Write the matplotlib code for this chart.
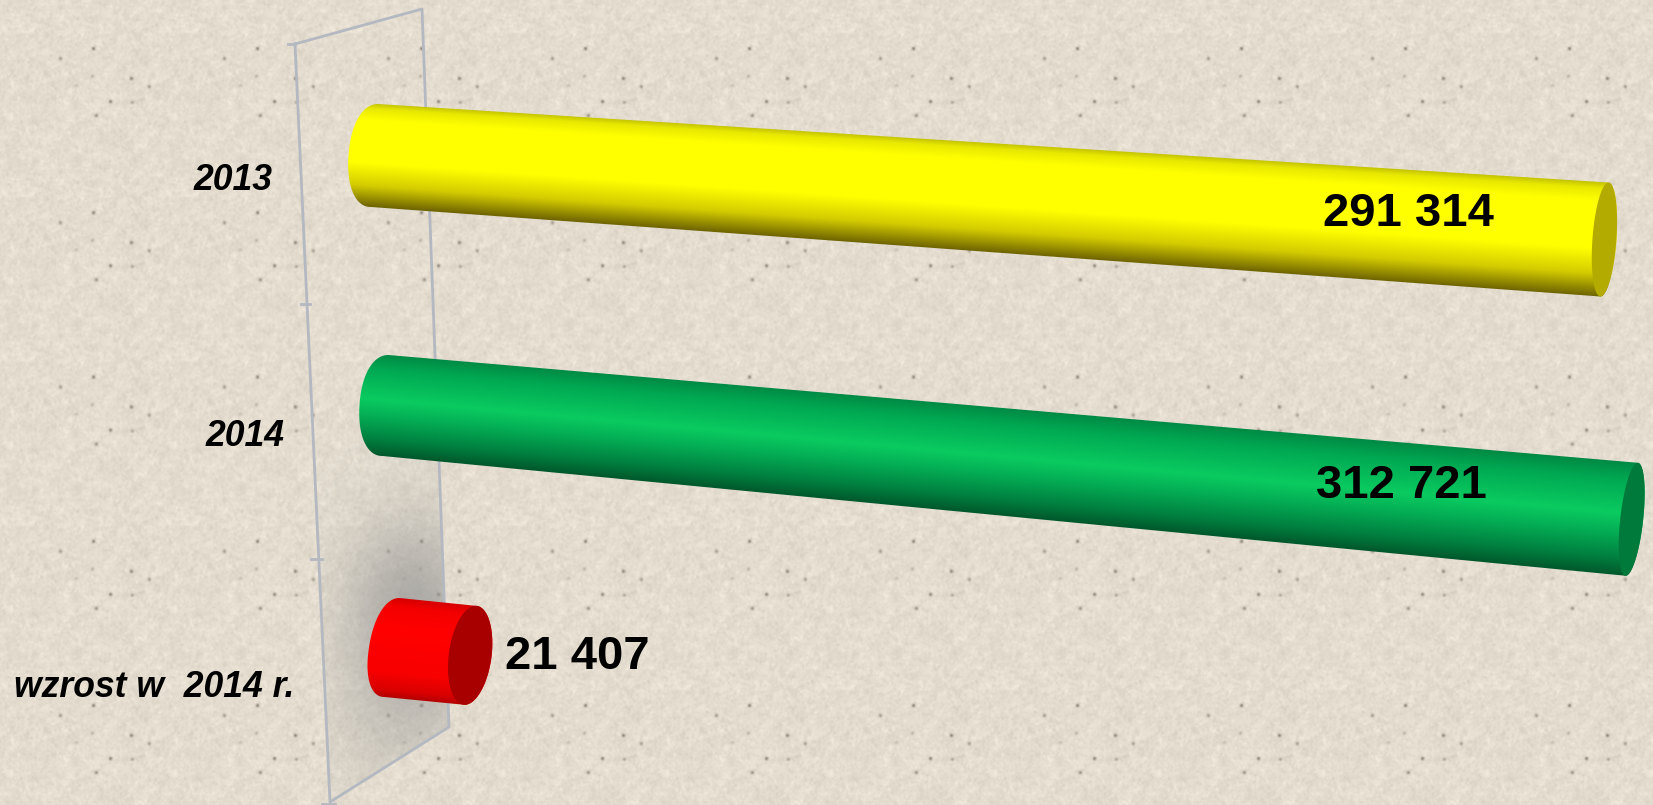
import numpy as np
import matplotlib
matplotlib.use("Agg")
import matplotlib.pyplot as plt
from matplotlib.colors import LinearSegmentedColormap
from matplotlib.patches import Polygon

plt.rcParams['font.family'] = ['Liberation Sans', 'DejaVu Sans']

categories = ["2013", "2014", "wzrost w  2014 r."]
values = [291314, 312721, 21407]

W, H = 1653, 805

# left cap centre, px per unit, slope of the axis
start_xy = [(374.5, 155.5), (385.5, 405.5), (392, 647.5)]
px_per_unit = [0.004222, 0.003985, 0.003650]
slopes = [0.0683, 0.0913, 0.10]
# half axes of the cap ellipses: (major x, major y, minor)
left_cap = [(3.5, 51.5, 26), (3, 50.5, 26), (7.5, 49.5, 23)]
right_cap = [(4, 57, 12), (6, 56.5, 11.5), (5.5, 49.5, 21.5)]
shades = [
    [(0, "#c4c400"), (0.05, "#e8e800"), (0.16, "#ffff00"), (0.58, "#ffff00"), (0.8, "#d4cc00"), (1, "#6e6400")],
    [(0, "#008a44"), (0.15, "#00a852"), (0.45, "#0acb60"), (0.62, "#04ae55"), (0.85, "#007f3f"), (1, "#00582b")],
    [(0, "#d80000"), (0.08, "#f40000"), (0.3, "#ff0000"), (0.75, "#f80000"), (0.93, "#d80000"), (1, "#b40000")],
]
cap_colors = ["#b3ab00", "#007a3a", "#a80000"]

label_xy = [(1408, 214), (1401, 486), (577, 657)]
cat_xy = [(233, 180), (245, 436), (154, 687)]

wall = [(295, 44), (422, 9), (449, 727), (330, 802)]
ticks = [((288, 44), (295, 44)), ((301, 304), (310, 304)), ((311, 559), (322, 559)), ((322, 804), (335, 804))]
line_col = "#b4b8c0"


def background():
    # paper texture, one tile repeated over the page
    rng = np.random.default_rng(11)
    size = 164
    fx = np.fft.fftfreq(size)[:, None]
    fy = np.fft.fftfreq(size)[None, :]
    r2 = fx**2 + fy**2
    noise = np.zeros((size, size))
    for sigma, amp in [(0.9, 3.0), (2.2, 2.4), (8.0, 0.6)]:
        n = rng.normal(size=(size, size))
        n = np.fft.ifft2(np.fft.fft2(n) * np.exp(-2 * (np.pi * sigma)**2 * r2)).real
        noise += amp * n / n.std()
    specks = (rng.random((size, size)) > 0.99965) * rng.uniform(0.25, 1.0, (size, size))
    specks = np.fft.ifft2(np.fft.fft2(specks) * np.exp(-2 * (np.pi * 1.3)**2 * r2)).real
    noise -= 900 * specks
    tile = noise[:, :, None] + np.array([228, 221, 208])[None, None, :]
    page = np.tile(tile, (H // size + 1, W // size + 1, 1))[:H, :W]
    return np.clip(page, 0, 255).astype(np.uint8)


def half_ellipse(cx, cy, cap, a0, a1, power=1.0):
    mx, my, minor = cap
    a = np.linspace(a0, a1, 80)
    s, c = np.sin(a), np.cos(a)
    # power below 1 gives the fuller round end of the left caps
    s = np.sign(s) * np.abs(s)**power
    c = np.sign(c) * np.abs(c)**power
    return np.column_stack((cx + mx * c + minor * s, cy - my * c))


def cylinder(ax, i, value):
    x0, y0 = start_xy[i]
    x1 = x0 + value * px_per_unit[i]
    y1 = y0 + (x1 - x0) * slopes[i]
    left = half_ellipse(x0, y0, left_cap[i], 0, -np.pi, 0.92)
    right = half_ellipse(x1, y1, right_cap[i], np.pi, 0)
    outline = Polygon(np.vstack((left, right)), closed=True, fc="none", ec="none")
    ax.add_patch(outline)

    # shading across the bar, following its taper
    xx, yy = np.meshgrid(np.arange(int(x0) - 40, int(x1) + 40), np.arange(int(y0) - 70, int(y1) + 70))
    f = (xx - x0) / (x1 - x0)
    yc = y0 + (y1 - y0) * f
    hh = left_cap[i][1] + (right_cap[i][1] - left_cap[i][1]) * f
    t = np.clip((yy - yc + hh) / (2 * hh), 0, 1)
    cmap = LinearSegmentedColormap.from_list("bar%d" % i, shades[i])
    im = ax.imshow(t, cmap=cmap, vmin=0, vmax=1, aspect="auto", zorder=3,
                   extent=(xx.min(), xx.max() + 1, yy.max() + 1, yy.min()))
    im.set_clip_path(outline)

    cap = half_ellipse(x1, y1, right_cap[i], 0, 2 * np.pi)
    ax.add_patch(Polygon(cap, closed=True, fc=cap_colors[i], ec="none", zorder=4))


fig = plt.figure(figsize=(W / 100, H / 100), dpi=100)
ax = fig.add_axes([0, 0, 1, 1])
ax.imshow(background(), extent=(0, W, H, 0), aspect="auto", zorder=0)

# shadow on the back wall
wall_patch = Polygon(wall, closed=True, fc="none", ec="none")
ax.add_patch(wall_patch)
xx, yy = np.meshgrid(np.arange(280, 460), np.arange(0, H))
a = 0.68 * np.exp(-((xx - 412) / 48.0)**2 / 2 - ((yy - 612) / 68.0)**2 / 2) + 0.2 * np.exp(-((yy - 725) / 55.0)**2 / 2 - ((xx - 400) / 60.0)**2 / 2)
rgba = np.zeros(a.shape + (4,))
rgba[..., :3] = 0.58
rgba[..., 3] = a
sh = ax.imshow(rgba, extent=(280, 460, H, 0), aspect="auto", zorder=1)
sh.set_clip_path(wall_patch)

ax.plot(*zip(*(wall + wall[:1])), color=line_col, lw=2, zorder=2)
for p, q in ticks:
    ax.plot(*zip(p, q), color=line_col, lw=2, zorder=2)

for i, v in enumerate(values):
    cylinder(ax, i, v)
    txt = "{:,}".format(v).replace(",", " ")
    ax.text(*label_xy[i], txt, fontsize=34, fontweight="bold", ha="center", va="center", color="black", zorder=5)
    ax.text(*cat_xy[i], categories[i], fontsize=25.6, fontweight="bold", style="italic", ha="center", va="center", color="black", zorder=5)

ax.set_xlim(0, W)
ax.set_ylim(H, 0)
ax.axis("off")
fig.savefig("out.png", dpi=100)
